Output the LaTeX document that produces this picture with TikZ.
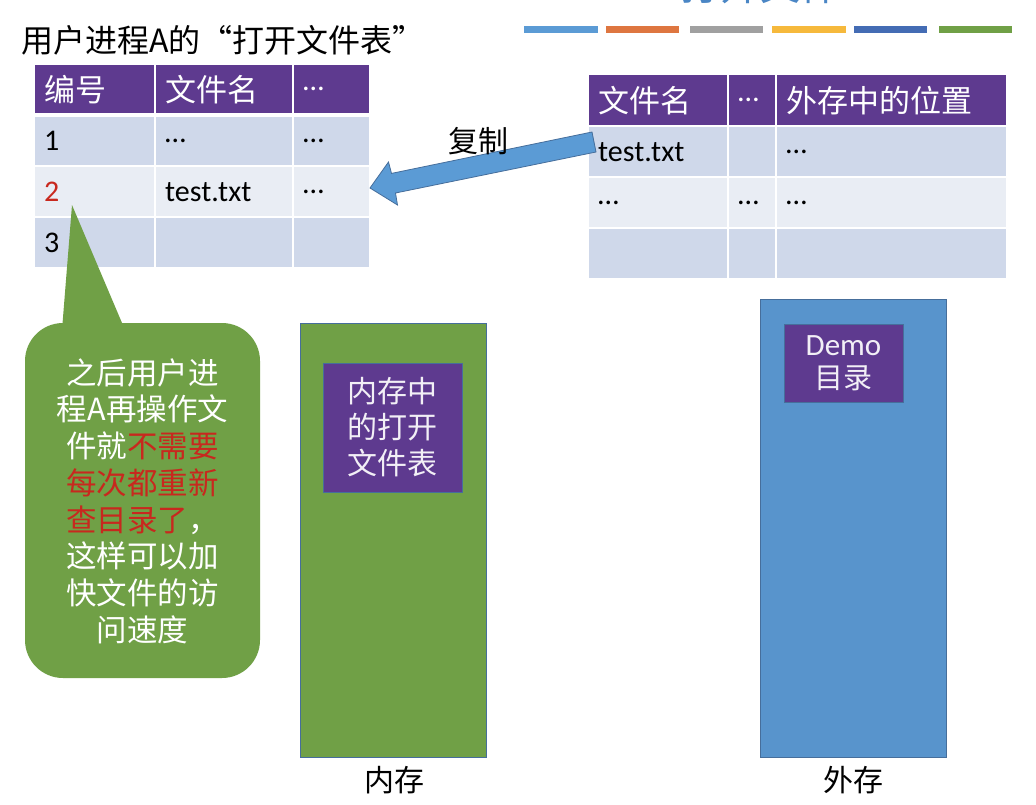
\documentclass[tikz,border=0pt]{standalone}
\usepackage{fontspec}
\setmainfont{Carlito}
\newfontfamily\cjk{Noto Sans CJK SC}
\definecolor{hdpurple}{RGB}{94,58,143}
\definecolor{rowdark}{RGB}{207,216,234}
\definecolor{rowlight}{RGB}{233,237,244}
\definecolor{memgreen}{RGB}{112,160,70}
\definecolor{diskblue}{RGB}{88,148,204}
\definecolor{edgeblue}{RGB}{70,110,155}
\definecolor{titleblue}{RGB}{74,134,197}
\definecolor{hired}{RGB}{200,40,30}
\definecolor{barA}{RGB}{91,155,213}
\definecolor{barB}{RGB}{222,118,64}
\definecolor{barC}{RGB}{160,160,160}
\definecolor{barD}{RGB}{246,185,60}
\definecolor{barE}{RGB}{68,108,180}
\definecolor{barF}{RGB}{112,160,70}
\begin{document}
\begin{tikzpicture}[x=1pt,y=-1pt,
  cellbox/.style={draw=white, line width=2.4pt, anchor=north west, inner xsep=10pt, inner ysep=0pt, align=left},
  hdcell/.style={cellbox, fill=hdpurple, text=white, font=\cjk\fontsize{31}{33}\selectfont},
  dkcell/.style={cellbox, fill=rowdark, text=black, font=\fontsize{30}{32}\selectfont},
  ltcell/.style={cellbox, fill=rowlight, text=black, font=\fontsize{30}{32}\selectfont},
  innerbox/.style={draw=edgeblue, line width=0.8pt, fill=hdpurple, text=white!92!hdpurple, align=center, inner sep=0pt},
  bigbox/.style={draw=edgeblue, line width=0.8pt, anchor=north west, inner sep=0pt},
  capt/.style={font=\cjk\fontsize{30}{32}\selectfont, text=black},
  bar/.style={line width=7pt}]
\useasboundingbox (0,0) rectangle (1036,804);
\clip (0,0) rectangle (1036,804);
\fill[white] (0,0) rectangle (1036,804);

% title (cut off at top, as in the reference)
\node[font=\cjk\fontsize{40}{44}\selectfont, text=titleblue] (title) at (760,-15) {打开文件};
% colour bars
\draw[bar, barA] (524,29) -- (598,29);
\draw[bar, barB] (606,29) -- (679,29);
\draw[bar, barC] (690,29) -- (763,29);
\draw[bar, barD] (772,29) -- (846,29);
\draw[bar, barE] (854,29) -- (927,29);
\draw[bar, barF] (939,29) -- (1012,29);

% left table caption
\node[capt, font=\cjk\fontsize{32}{34}\selectfont, anchor=west] (lcap) at (18,40) {用户进程A的“打开文件表”};

% left table
\node[hdcell, minimum width=121, text width=101, minimum height=50] (l00) at (33,63) {编号};
\node[hdcell, minimum width=138, text width=118, minimum height=50] (l01) at (154,63) {文件名};
\node[hdcell, minimum width=77, text width=57, minimum height=50, font=\fontsize{30}{32}\selectfont] (l02) at (292,63) {…};
\node[dkcell, minimum width=121, text width=101, minimum height=50] (l10) at (33,115) {1};
\node[dkcell, minimum width=138, text width=118, minimum height=50] (l11) at (154,115) {…};
\node[dkcell, minimum width=77, text width=57, minimum height=50] (l12) at (292,115) {…};
\node[ltcell, minimum width=121, text width=101, minimum height=51, text=hired] (l20) at (33,165) {2};
\node[ltcell, minimum width=138, text width=118, minimum height=51] (l21) at (154,165) {test.txt};
\node[ltcell, minimum width=77, text width=57, minimum height=51] (l22) at (292,165) {…};
\node[dkcell, minimum width=121, text width=101, minimum height=51] (l30) at (33,216) {3};
\node[dkcell, minimum width=138, text width=118, minimum height=51] (l31) at (154,216) {};
\node[dkcell, minimum width=77, text width=57, minimum height=51] (l32) at (292,216) {};

% right table
\node[hdcell, minimum width=140, text width=120, minimum height=52] (r00) at (587,73) {文件名};
\node[hdcell, minimum width=48, text width=28, minimum height=52, font=\fontsize{30}{32}\selectfont] (r01) at (727,73) {…};
\node[hdcell, minimum width=231, text width=211, minimum height=52] (r02) at (775,73) {外存中的位置};
\node[dkcell, minimum width=140, text width=120, minimum height=51] (r10) at (587,125) {test.txt};
\node[dkcell, minimum width=48, text width=28, minimum height=51] (r11) at (727,125) {};
\node[dkcell, minimum width=231, text width=211, minimum height=51] (r12) at (775,125) {…};
\node[ltcell, minimum width=140, text width=120, minimum height=51] (r20) at (587,176) {…};
\node[ltcell, minimum width=48, text width=28, minimum height=51] (r21) at (727,176) {…};
\node[ltcell, minimum width=231, text width=211, minimum height=51] (r22) at (775,176) {…};
\node[dkcell, minimum width=140, text width=120, minimum height=51] (r30) at (587,227) {};
\node[dkcell, minimum width=48, text width=28, minimum height=51] (r31) at (727,227) {};
\node[dkcell, minimum width=231, text width=211, minimum height=51] (r32) at (775,227) {};

% copy arrow (block arrow from right table to left table)
\coordinate (atail1) at (592,132);
\coordinate (ashaft1) at (391.5,173.4);
\coordinate (ahead1) at (388.5,162);
\coordinate (atip) at (370,188);
\coordinate (ahead2) at (397.5,205);
\coordinate (ashaft2) at (395.5,193);
\coordinate (atail2) at (596,152);
\draw[fill=barA, draw=edgeblue, line width=0.8pt, line join=miter]
  (atail1) -- (ashaft1) -- (ahead1) -- (atip) -- (ahead2) -- (ashaft2) -- (atail2) -- cycle;
\node[capt] (copy) at (478,141) {复制};

% callout: rounded body and straight pointer
\fill[memgreen, rounded corners=38] (25,323) rectangle (260,678);
\fill[memgreen] (72,205) -- (125,330) -- (62,330) -- cycle;
\node[align=center, text=white, font=\cjk\fontsize{30.5}{36.7}\selectfont] (note) at (142.5,501)
 {之后用户进\\程A再操作文\\件就\textcolor{hired}{不需要}\\\textcolor{hired}{每次都重新}\\\textcolor{hired}{查目录了}，\\这样可以加\\快文件的访\\问速度};

% memory
\node[bigbox, fill=memgreen, minimum width=186, minimum height=434] (mem) at (300,323) {};
\node[innerbox, minimum width=139, minimum height=129, font=\cjk\fontsize{30}{36}\selectfont] (oft) at (392.5,427.5) {内存中\\的打开\\文件表};
\node[capt] (memlab) at (394,780) {内存};

% disk
\node[bigbox, fill=diskblue, minimum width=186, minimum height=458] (disk) at (760,299) {};
\node[innerbox, minimum width=119, minimum height=78, font=\fontsize{31}{33}\selectfont] (demo) at (843.5,363) {Demo\\{\cjk\fontsize{29}{33}\selectfont 目录}};
\node[capt] (disklab) at (853,780) {外存};
\end{tikzpicture}
\end{document}
